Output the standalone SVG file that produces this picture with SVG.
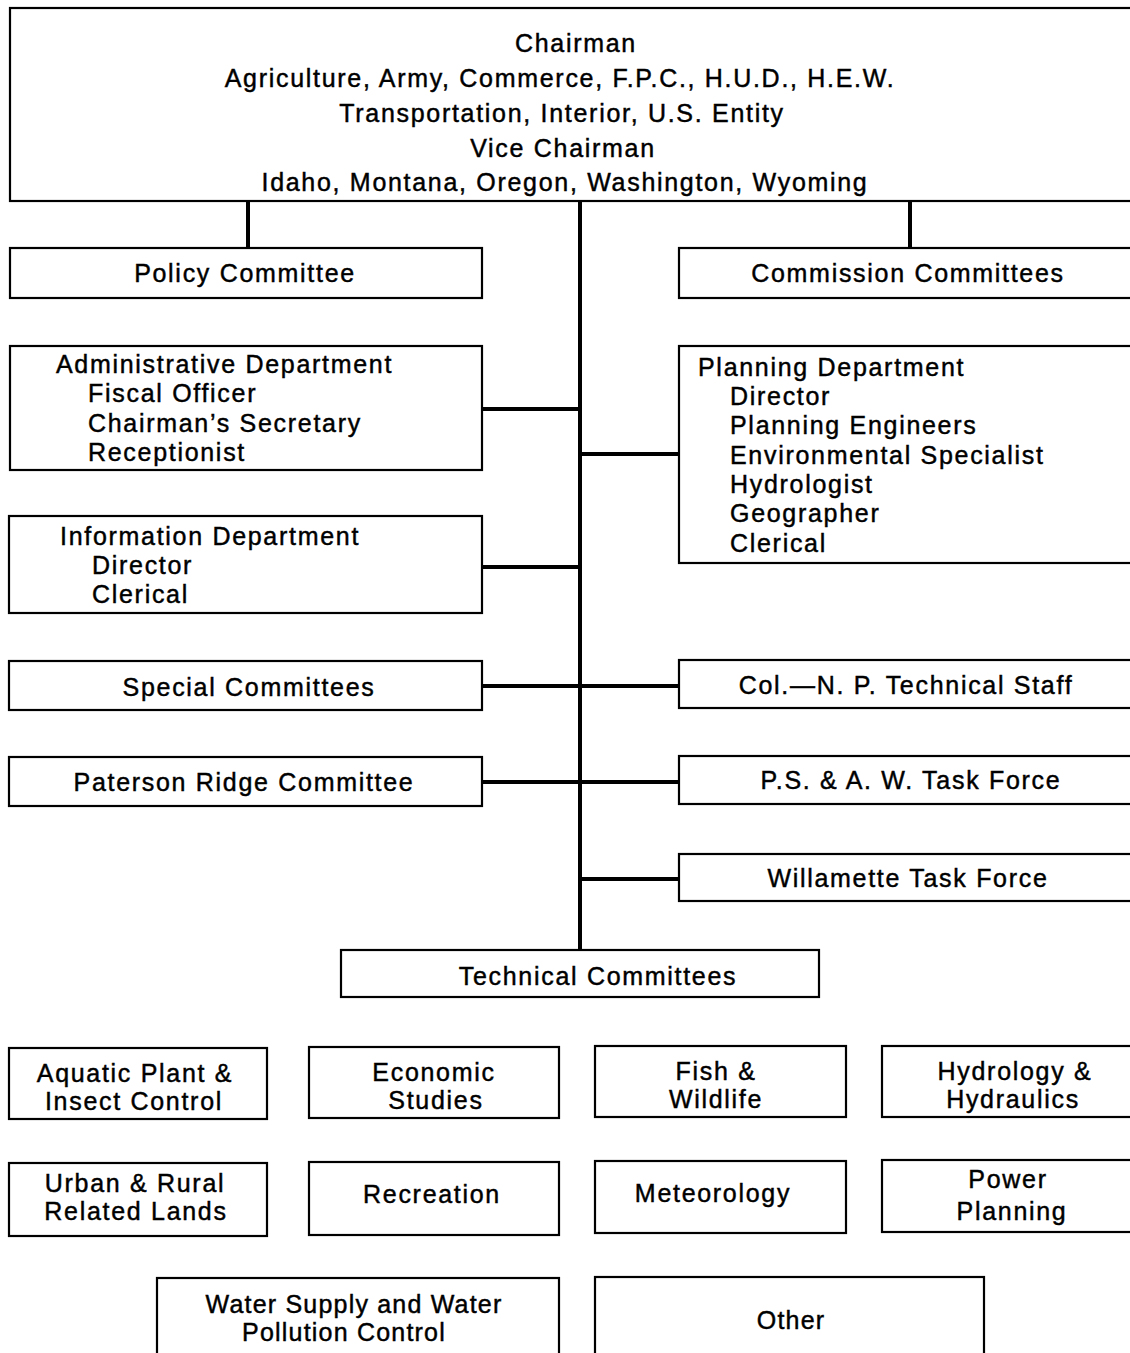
<svg xmlns="http://www.w3.org/2000/svg" width="1130" height="1353" viewBox="0 0 1130 1353">
<style>
.b{fill:#fff;stroke:#000;stroke-width:2.2}
.c{stroke:#000;stroke-width:4;fill:none}
text{font-family:"Liberation Sans",Arial,sans-serif;font-size:25px;fill:#000;stroke:#000;stroke-width:0.45;letter-spacing:1.7px}
.m{text-anchor:middle}
.n{letter-spacing:1.2px}
</style>
<rect width="1130" height="1353" fill="#fff"/>
<g id="connectors">
<line class="c" x1="248" y1="201" x2="248" y2="248"/>
<line class="c" x1="910" y1="201" x2="910" y2="248"/>
<line class="c" x1="580" y1="201" x2="580" y2="950"/>
<line class="c" x1="482" y1="409" x2="580" y2="409"/>
<line class="c" x1="482" y1="567" x2="580" y2="567"/>
<line class="c" x1="580" y1="454" x2="679" y2="454"/>
<line class="c" x1="482" y1="686" x2="679" y2="686"/>
<line class="c" x1="482" y1="782" x2="679" y2="782"/>
<line class="c" x1="580" y1="879" x2="679" y2="879"/>
</g>
<g id="top">
<rect class="b" x="10" y="8" width="1130" height="193"/>
<text class="m" x="576" y="52">Chairman</text>
<text class="m" x="560" y="87">Agriculture, Army, Commerce, F.P.C., H.U.D., H.E.W.</text>
<text class="m" x="562" y="122">Transportation, Interior, U.S. Entity</text>
<text class="m" x="563" y="157">Vice Chairman</text>
<text class="m" x="565" y="191">Idaho, Montana, Oregon, Washington, Wyoming</text>
</g>
<g id="policy"><rect class="b" x="10" y="248" width="472" height="50"/><text class="m" x="245" y="282">Policy Committee</text></g>
<g id="commission"><rect class="b" x="679" y="248" width="461" height="50"/><text class="m" x="908" y="282">Commission Committees</text></g>
<g id="admin"><rect class="b" x="10" y="346" width="472" height="124"/>
<text x="56" y="373">Administrative Department</text>
<text x="88" y="402">Fiscal Officer</text>
<text x="88" y="432">Chairman’s Secretary</text>
<text x="88" y="461">Receptionist</text></g>
<g id="info"><rect class="b" x="9" y="516" width="473" height="97"/>
<text x="60" y="545">Information Department</text>
<text x="92" y="574">Director</text>
<text x="92" y="603">Clerical</text></g>
<g id="planning"><rect class="b" x="679" y="346" width="461" height="217"/>
<text x="698" y="376">Planning Department</text>
<text x="730" y="405">Director</text>
<text x="730" y="434">Planning Engineers</text>
<text x="730" y="464">Environmental Specialist</text>
<text x="730" y="493">Hydrologist</text>
<text x="730" y="522">Geographer</text>
<text x="730" y="552">Clerical</text></g>
<g id="special"><rect class="b" x="9" y="661" width="473" height="49"/><text class="m" x="249" y="696">Special Committees</text></g>
<g id="colnp"><rect class="b" x="679" y="660" width="461" height="48"/><text class="m" x="906" y="694">Col.—N. P. Technical Staff</text></g>
<g id="paterson"><rect class="b" x="9" y="757" width="473" height="49"/><text class="m" x="244" y="791">Paterson Ridge Committee</text></g>
<g id="psaw"><rect class="b" x="679" y="756" width="461" height="48"/><text class="m" x="911" y="789">P.S. &amp; A. W. Task Force</text></g>
<g id="willamette"><rect class="b" x="679" y="854" width="461" height="47"/><text class="m" x="908" y="887">Willamette Task Force</text></g>
<g id="technical"><rect class="b" x="341" y="950" width="478" height="47"/><text class="m" x="598" y="985">Technical Committees</text></g>
<g id="aquatic"><rect class="b" x="9" y="1048" width="258" height="71"/><text class="m" x="135" y="1082">Aquatic Plant &amp;</text><text class="m" x="134" y="1110">Insect Control</text></g>
<g id="economic"><rect class="b" x="309" y="1047" width="250" height="71"/><text class="m" x="434" y="1081">Economic</text><text class="m" x="436" y="1109">Studies</text></g>
<g id="fish"><rect class="b" x="595" y="1046" width="251" height="71"/><text class="m" x="716" y="1080">Fish &amp;</text><text class="m" x="716" y="1108">Wildlife</text></g>
<g id="hydrology"><rect class="b" x="882" y="1046" width="258" height="71"/><text class="m" x="1015" y="1080">Hydrology &amp;</text><text class="m" x="1013" y="1108">Hydraulics</text></g>
<g id="urban"><rect class="b" x="9" y="1163" width="258" height="73"/><text class="m" x="135" y="1192">Urban &amp; Rural</text><text class="m" x="136" y="1220">Related Lands</text></g>
<g id="recreation"><rect class="b" x="309" y="1162" width="250" height="73"/><text class="m" x="432" y="1203">Recreation</text></g>
<g id="meteorology"><rect class="b" x="595" y="1161" width="251" height="72"/><text class="m" x="713" y="1202">Meteorology</text></g>
<g id="power"><rect class="b" x="882" y="1160" width="258" height="72"/><text class="m" x="1008" y="1188">Power</text><text class="m" x="1012" y="1220">Planning</text></g>
<g id="water"><rect class="b" x="157" y="1278" width="402" height="90"/><text class="m n" x="354" y="1313">Water Supply and Water</text><text class="m n" x="344" y="1341">Pollution Control</text></g>
<g id="other"><rect class="b" x="595" y="1277" width="389" height="90"/><text class="m n" x="791" y="1329">Other</text></g>
</svg>
